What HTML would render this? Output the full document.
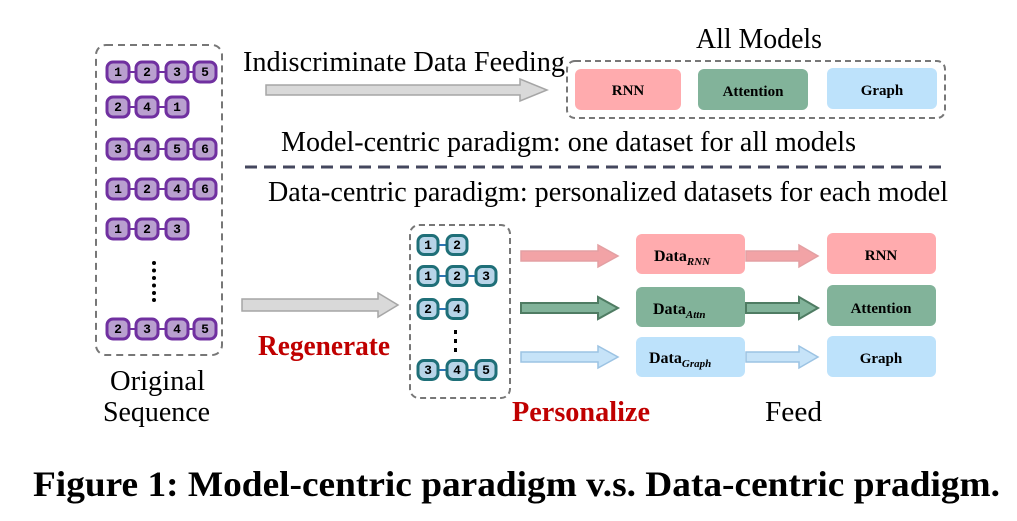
<!DOCTYPE html>
<html><head><meta charset="utf-8"><style>
html,body{margin:0;padding:0;background:#fff;}
svg{display:block;}
.s{font-family:"Liberation Serif",serif;}
.n{font-family:"Liberation Mono",monospace;font-weight:bold;font-size:13px;text-anchor:middle;}
.b{font-family:"Liberation Serif",serif;font-weight:bold;font-size:15px;text-anchor:middle;}
</style></head><body>
<svg width="1017" height="521" viewBox="0 0 1017 521" xmlns="http://www.w3.org/2000/svg">
<defs>
<g id="pn"><rect x="-11" y="-10" width="22" height="20" rx="6" fill="#b9a0cf" stroke="#7030a0" stroke-width="3"/></g>
<g id="tn"><rect x="-10" y="-9.5" width="20" height="19" rx="6" fill="#b8d4e8" stroke="#1f6f78" stroke-width="3"/></g>
</defs>
<!-- left box -->
<rect x="96" y="45" width="126" height="310" rx="10" fill="none" stroke="#777" stroke-width="2" stroke-dasharray="7,5"/>
<g stroke="#7030a0" stroke-width="2">
<line x1="118" y1="72" x2="205" y2="72"/><line x1="118" y1="107" x2="177" y2="107"/>
<line x1="118" y1="149" x2="205" y2="149"/><line x1="118" y1="189" x2="205" y2="189"/>
<line x1="118" y1="229" x2="177" y2="229"/><line x1="118" y1="329" x2="205" y2="329"/>
</g>
<use href="#pn" x="118" y="72"/><use href="#pn" x="147" y="72"/><use href="#pn" x="177" y="72"/><use href="#pn" x="205" y="72"/>
<use href="#pn" x="118" y="107"/><use href="#pn" x="147" y="107"/><use href="#pn" x="177" y="107"/>
<use href="#pn" x="118" y="149"/><use href="#pn" x="147" y="149"/><use href="#pn" x="177" y="149"/><use href="#pn" x="205" y="149"/>
<use href="#pn" x="118" y="189"/><use href="#pn" x="147" y="189"/><use href="#pn" x="177" y="189"/><use href="#pn" x="205" y="189"/>
<use href="#pn" x="118" y="229"/><use href="#pn" x="147" y="229"/><use href="#pn" x="177" y="229"/>
<use href="#pn" x="118" y="329"/><use href="#pn" x="147" y="329"/><use href="#pn" x="177" y="329"/><use href="#pn" x="205" y="329"/>
<g class="n">
<text x="118" y="76">1</text><text x="147" y="76">2</text><text x="177" y="76">3</text><text x="205" y="76">5</text>
<text x="118" y="111">2</text><text x="147" y="111">4</text><text x="177" y="111">1</text>
<text x="118" y="153">3</text><text x="147" y="153">4</text><text x="177" y="153">5</text><text x="205" y="153">6</text>
<text x="118" y="193">1</text><text x="147" y="193">2</text><text x="177" y="193">4</text><text x="205" y="193">6</text>
<text x="118" y="233">1</text><text x="147" y="233">2</text><text x="177" y="233">3</text>
<text x="118" y="333">2</text><text x="147" y="333">3</text><text x="177" y="333">4</text><text x="205" y="333">5</text>
</g>
<g fill="#000"><circle cx="154" cy="263" r="2"/><circle cx="154" cy="270.5" r="2"/><circle cx="154" cy="278" r="2"/><circle cx="154" cy="285.5" r="2"/><circle cx="154" cy="293" r="2"/><circle cx="154" cy="300" r="2"/></g>
<text class="s" x="110" y="390" font-size="28" textLength="95" lengthAdjust="spacingAndGlyphs">Original</text>
<text class="s" x="103" y="421" font-size="28" textLength="107" lengthAdjust="spacingAndGlyphs">Sequence</text>

<!-- top -->
<text class="s" x="696" y="48" font-size="28" textLength="126" lengthAdjust="spacingAndGlyphs">All Models</text>
<text class="s" x="243" y="71" font-size="28" textLength="322" lengthAdjust="spacingAndGlyphs">Indiscriminate Data Feeding</text>
<path d="M266,85 H520 V79 L547,90 L520,101 V95 H266 Z" fill="#d9d9d9" stroke="#a6a6a6" stroke-width="1.5"/>
<rect x="567" y="61" width="378" height="57" rx="8" fill="none" stroke="#777" stroke-width="2" stroke-dasharray="6,4"/>
<rect x="575" y="69" width="106" height="41" rx="6" fill="#ffabae"/>
<rect x="698" y="69" width="110" height="41" rx="6" fill="#82b39a"/>
<rect x="827" y="68" width="110" height="41" rx="6" fill="#bde2fb"/>
<text class="b" x="628" y="95" font-size="14">RNN</text>
<text class="b" x="753" y="96" font-size="14">Attention</text>
<text class="b" x="882" y="95" font-size="14">Graph</text>
<text class="s" x="281" y="151" font-size="28" textLength="575" lengthAdjust="spacingAndGlyphs">Model-centric paradigm: one dataset for all models</text>
<line x1="245" y1="167" x2="947" y2="167" stroke="#44475e" stroke-width="3" stroke-dasharray="12,7"/>
<text class="s" x="268" y="201" font-size="28" textLength="680" lengthAdjust="spacingAndGlyphs">Data-centric paradigm: personalized datasets for each model</text>

<!-- bottom -->
<path d="M242,299 H378 V293 L398,305 L378,317 V311 H242 Z" fill="#d9d9d9" stroke="#a6a6a6" stroke-width="1.5"/>
<text class="s" x="258" y="355" font-size="28" font-weight="bold" fill="#c00000" textLength="132" lengthAdjust="spacingAndGlyphs">Regenerate</text>
<rect x="410" y="225" width="100" height="173" rx="9" fill="none" stroke="#777" stroke-width="2" stroke-dasharray="6,4"/>
<g stroke="#2e75b6" stroke-width="2">
<line x1="428" y1="245" x2="457" y2="245"/><line x1="428" y1="276" x2="486" y2="276"/>
<line x1="428" y1="309" x2="457" y2="309"/><line x1="428" y1="370" x2="486" y2="370"/>
</g>
<use href="#tn" x="428" y="245"/><use href="#tn" x="457" y="245"/>
<use href="#tn" x="428" y="276"/><use href="#tn" x="457" y="276"/><use href="#tn" x="486" y="276"/>
<use href="#tn" x="428" y="309"/><use href="#tn" x="457" y="309"/>
<use href="#tn" x="428" y="370"/><use href="#tn" x="457" y="370"/><use href="#tn" x="486" y="370"/>
<g class="n" font-size="12">
<text x="428" y="249">1</text><text x="457" y="249">2</text>
<text x="428" y="280">1</text><text x="457" y="280">2</text><text x="486" y="280">3</text>
<text x="428" y="313">2</text><text x="457" y="313">4</text>
<text x="428" y="374">3</text><text x="457" y="374">4</text><text x="486" y="374">5</text>
</g>
<g fill="#000"><rect x="454" y="330" width="3" height="4"/><rect x="454" y="339" width="3" height="4"/><rect x="454" y="348" width="3" height="4"/></g>

<!-- colored arrows -->
<path d="M521,251 H598 V245 L618,256 L598,267 V261 H521 Z" fill="#f2a3a6" stroke="#e3a0a3" stroke-width="1.5"/>
<path d="M521,303 H598 V297 L618,308 L598,319 V313 H521 Z" fill="#82b39a" stroke="#4f7c63" stroke-width="2"/>
<path d="M521,352 H598 V346 L618,357 L598,368 V362 H521 Z" fill="#c6e3f8" stroke="#9cc3e3" stroke-width="1.5"/>
<path d="M746,251 H799 V245 L818,256 L799,267 V261 H746 Z" fill="#f2a3a6" stroke="#e3a0a3" stroke-width="1.5"/>
<path d="M746,303 H799 V297 L818,308 L799,319 V313 H746 Z" fill="#82b39a" stroke="#4f7c63" stroke-width="2"/>
<path d="M746,352 H799 V346 L818,357 L799,368 V362 H746 Z" fill="#c6e3f8" stroke="#9cc3e3" stroke-width="1.5"/>

<rect x="636" y="234" width="109" height="40" rx="6" fill="#ffabae"/>
<rect x="636" y="287" width="109" height="40" rx="6" fill="#82b39a"/>
<rect x="636" y="337" width="109" height="40" rx="6" fill="#bde2fb"/>
<rect x="827" y="233" width="109" height="41" rx="6" fill="#ffabae"/>
<rect x="827" y="285" width="109" height="41" rx="6" fill="#82b39a"/>
<rect x="827" y="336" width="109" height="41" rx="6" fill="#bde2fb"/>
<g class="s" font-weight="bold">
<text x="654" y="261" font-size="16">Data<tspan font-size="11" font-style="italic" dy="4">RNN</tspan></text>
<text x="653" y="314" font-size="16">Data<tspan font-size="11" font-style="italic" dy="4">Attn</tspan></text>
<text x="649" y="363" font-size="16">Data<tspan font-size="11" font-style="italic" dy="4">Graph</tspan></text>
</g>
<text class="b" x="881" y="260">RNN</text>
<text class="b" x="881" y="313">Attention</text>
<text class="b" x="881" y="363">Graph</text>
<text class="s" x="512" y="421" font-size="28" font-weight="bold" fill="#c00000" textLength="138" lengthAdjust="spacingAndGlyphs">Personalize</text>
<text class="s" x="765" y="421" font-size="28" textLength="57" lengthAdjust="spacingAndGlyphs">Feed</text>

<text class="s" x="33" y="496" font-size="36" font-weight="bold" textLength="967" lengthAdjust="spacingAndGlyphs">Figure 1: Model-centric paradigm v.s. Data-centric pradigm.</text>
</svg>
</body></html>
